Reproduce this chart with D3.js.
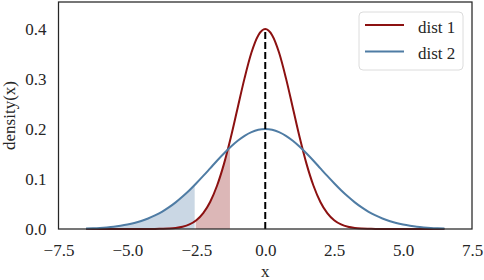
<!DOCTYPE html>
<html>
<head>
<meta charset="utf-8">
<script src="https://cdn.jsdelivr.net/npm/d3@7"></script>
<style>
  body { margin: 0; background: #fff; }
</style>
</head>
<body>
<script>
// x grid the densities were read at
let xs = [];
for (let i = 0; i <= 52; i++) xs.push(-6.5 + i * 0.25);

// dist 1 density, -6.5 .. 6.5 step 0.25
let dist1 = [
  0, 0, 0, 0, 0, 0, 0, 0, 0, 0,
  0.0001, 0.0004, 0.0009, 0.0020, 0.0044, 0.0091, 0.0175, 0.0317, 0.0540, 0.0863,
  0.1295, 0.1826, 0.2420, 0.3011, 0.3521, 0.3867, 0.3989, 0.3867, 0.3521, 0.3011,
  0.2420, 0.1826, 0.1295, 0.0863, 0.0540, 0.0317, 0.0175, 0.0091, 0.0044, 0.0020,
  0.0009, 0.0004, 0.0001, 0, 0, 0, 0, 0, 0, 0,
  0, 0, 0
];
// dist 2 density
let dist2 = [
  0.0010, 0.0015, 0.0022, 0.0032, 0.0045, 0.0064, 0.0088, 0.0119, 0.0159, 0.0209,
  0.0270, 0.0343, 0.0431, 0.0532, 0.0648, 0.0774, 0.0913, 0.1059, 0.1210, 0.1362,
  0.1506, 0.1640, 0.1760, 0.1859, 0.1933, 0.1979, 0.1995, 0.1979, 0.1933, 0.1859,
  0.1760, 0.1640, 0.1506, 0.1362, 0.1210, 0.1059, 0.0913, 0.0774, 0.0648, 0.0532,
  0.0431, 0.0343, 0.0270, 0.0209, 0.0159, 0.0119, 0.0088, 0.0064, 0.0045, 0.0032,
  0.0022, 0.0015, 0.0010
];

// shaded tails
let blueCut = -2.56;
let redFrom = -2.56, redCut = -1.28;
let peakX = 0, peakY = 0.3989;

let xTicks = [-7.5, -5.0, -2.5, 0.0, 2.5, 5.0, 7.5];
let yTicks = [0.0, 0.1, 0.2, 0.3, 0.4];
let names = ["dist 1", "dist 2"];

let red = "#8c1111", blue = "#4f7ca4";
let font = "'Liberation Serif', 'Times New Roman', serif";
let ink = "#262626";

let svgWidth = 484, svgHeight = 280;
let margin = { top: 2, right: 12, bottom: 51, left: 58.5 };
let chartWidth = svgWidth - margin.left - margin.right;
let chartHeight = svgHeight - margin.top - margin.bottom;

let svg = d3.select("body").append("svg")
  .attr("width", svgWidth)
  .attr("height", svgHeight);

let chartGroup = svg.append("g")
  .attr("transform", `translate(${margin.left}, ${margin.top})`);

let xScale = d3.scaleLinear().domain([-7.5, 7.5]).range([0, chartWidth]);
let yScale = d3.scaleLinear().domain([0, 0.453]).range([chartHeight, 0]);

let pts1 = xs.map((x, i) => [x, dist1[i]]);
let pts2 = xs.map((x, i) => [x, dist2[i]]);

// clip rects for the shaded tails
let defs = svg.append("defs");
defs.append("clipPath").attr("id", "clipBlue").append("rect")
  .attr("x", 0).attr("y", 0)
  .attr("width", xScale(blueCut)).attr("height", chartHeight);
defs.append("clipPath").attr("id", "clipRed").append("rect")
  .attr("x", xScale(redFrom) + 1).attr("y", 0)
  .attr("width", xScale(redCut) - xScale(redFrom) - 1).attr("height", chartHeight);

let area = d3.area()
  .x(d => xScale(d[0]))
  .y0(yScale(0))
  .y1(d => yScale(d[1]))
  .curve(d3.curveMonotoneX);

chartGroup.append("path")
  .attr("d", area(pts1))
  .attr("fill", red).attr("fill-opacity", 0.3)
  .attr("clip-path", "url(#clipRed)");
chartGroup.append("path")
  .attr("d", area(pts2))
  .attr("fill", blue).attr("fill-opacity", 0.3)
  .attr("clip-path", "url(#clipBlue)");

let line = d3.line()
  .x(d => xScale(d[0]))
  .y(d => yScale(d[1]))
  .curve(d3.curveMonotoneX);

chartGroup.append("path")
  .attr("d", line(pts1))
  .attr("fill", "none").attr("stroke", red).attr("stroke-width", 2);
chartGroup.append("path")
  .attr("d", line(pts2))
  .attr("fill", "none").attr("stroke", blue).attr("stroke-width", 2);

// dashed mean line
chartGroup.append("line")
  .attr("x1", xScale(peakX)).attr("x2", xScale(peakX))
  .attr("y1", yScale(0)).attr("y2", yScale(peakY))
  .attr("stroke", "#000").attr("stroke-width", 2)
  .attr("stroke-dasharray", "7,3");

// axes (no tick marks, just labels)
let xAxis = d3.axisBottom(xScale).tickValues(xTicks)
  .tickFormat(d3.format(".1f")).tickSize(0);
let yAxis = d3.axisLeft(yScale).tickValues(yTicks)
  .tickFormat(d3.format(".1f")).tickSize(0).tickPadding(12);

let gx = chartGroup.append("g")
  .attr("transform", `translate(0, ${chartHeight})`)
  .call(xAxis);
let gy = chartGroup.append("g").call(yAxis);
[gx, gy].forEach(g => {
  g.select(".domain").remove();
  g.attr("font-family", font).attr("font-size", 17);
  g.selectAll("text").attr("fill", ink);
});
gx.selectAll("text").attr("dy", null).attr("y", 26.5);

// frame
chartGroup.append("rect")
  .attr("width", chartWidth).attr("height", chartHeight)
  .attr("fill", "none").attr("stroke", ink).attr("stroke-width", 1.25);

// axis labels
svg.append("text")
  .attr("x", margin.left + xScale(0)).attr("y", 277)
  .attr("text-anchor", "middle")
  .attr("font-family", font).attr("font-size", 17).attr("fill", ink)
  .text("x");
svg.append("text")
  .attr("transform", `translate(15, ${margin.top + chartHeight / 2}) rotate(-90)`)
  .attr("text-anchor", "middle")
  .attr("font-family", font).attr("font-size", 17).attr("fill", ink)
  .text("density(x)");

// legend
let legend = svg.append("g").attr("transform", "translate(359, 12)");
legend.append("rect")
  .attr("width", 104).attr("height", 58).attr("rx", 4)
  .attr("fill", "#fff").attr("fill-opacity", 0.8)
  .attr("stroke", "#dcdcdc").attr("stroke-width", 1);
[red, blue].forEach((c, i) => {
  let y = 13 + i * 26.5;
  legend.append("line")
    .attr("x1", 6).attr("x2", 45).attr("y1", y).attr("y2", y)
    .attr("stroke", c).attr("stroke-width", 2);
  legend.append("text")
    .attr("x", 59).attr("y", y + 7.5)
    .attr("font-family", font).attr("font-size", 17).attr("fill", ink)
    .text(names[i]);
});
</script>
</body>
</html>
